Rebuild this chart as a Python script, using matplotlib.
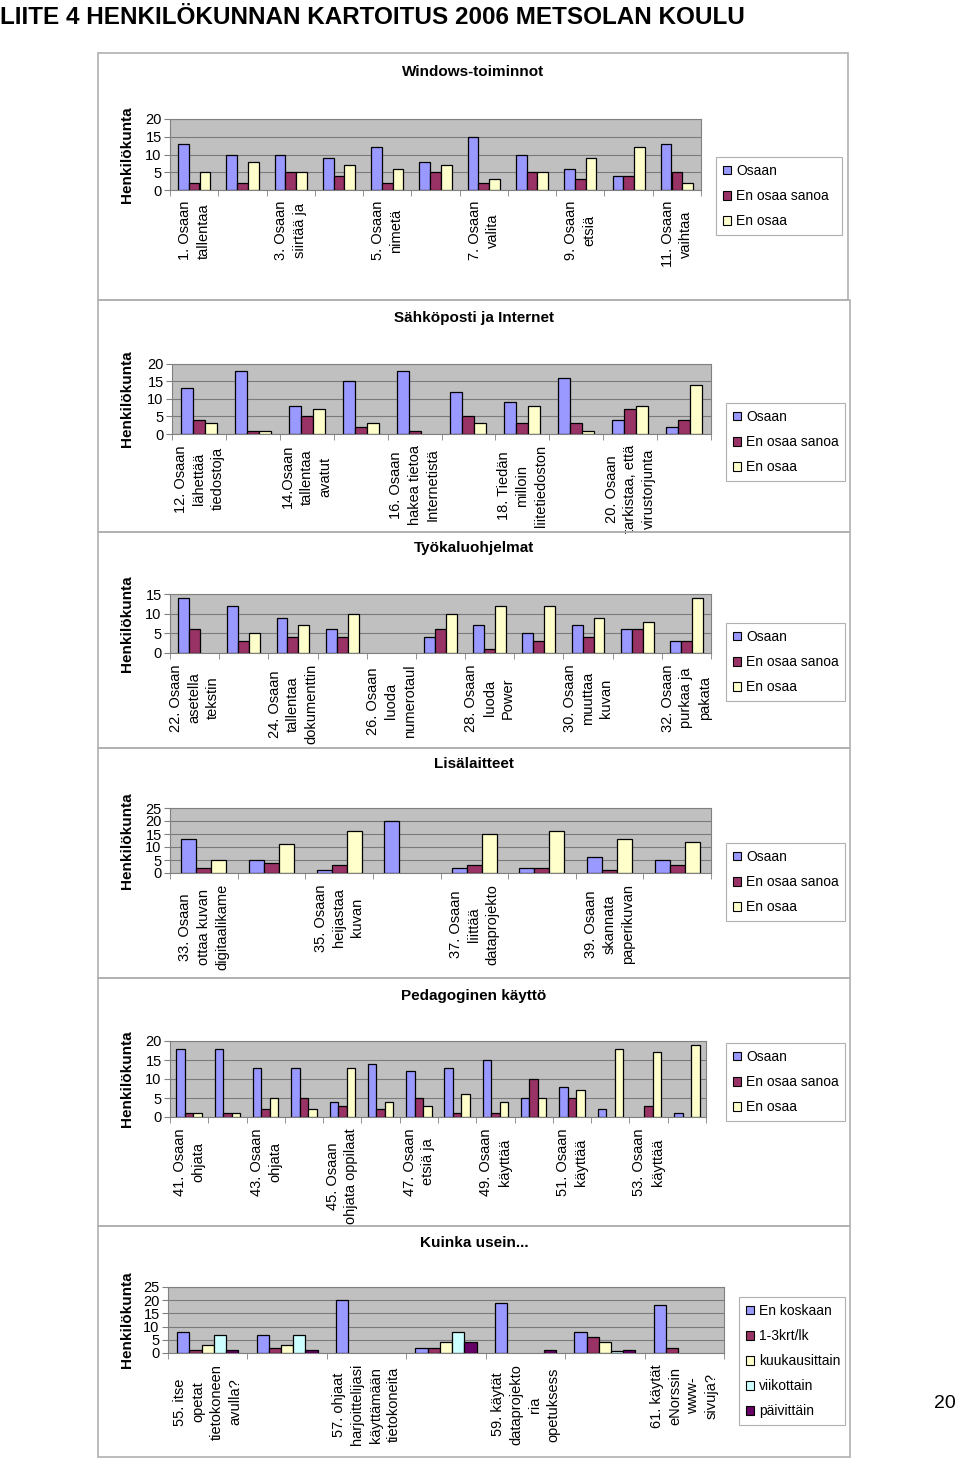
import numpy as np
import matplotlib
matplotlib.use('Agg')
import matplotlib.pyplot as plt
from matplotlib.patches import Patch, Rectangle

plt.rcParams['font.family'] = ['Liberation Sans', 'DejaVu Sans']

W, H = 960, 1458
PLOT_BG  = '#c0c0c0'
GRID     = '#7a7a7a'
AXIS     = '#808080'
BOX_EDGE = '#b0b0b0'
FS       = 10.5

SERIES_3 = ['Osaan', 'En osaa sanoa', 'En osaa']
COLORS_3 = ['#9999ff', '#993366', '#ffffcc']
SERIES_5 = ['En koskaan', '1-3krt/lk', 'kuukausittain', 'viikottain', 'päivittäin']
COLORS_5 = ['#9999ff', '#993366', '#ffffcc', '#ccffff', '#660066']

# Windows-toiminnot (1-11)
win_labels = ['1. Osaan\ntallentaa', '', '3. Osaan\nsiirtää ja', '', '5. Osaan\nnimetä', '',
              '7. Osaan\nvalita', '', '9. Osaan\netsiä', '', '11. Osaan\nvaihtaa']
win_osaan = [13, 10, 10, 9, 12, 8, 15, 10, 6, 4, 13]
win_eos   = [2, 2, 5, 4, 2, 5, 2, 5, 3, 4, 5]
win_eo    = [5, 8, 5, 7, 6, 7, 3, 5, 9, 12, 2]

# Sähköposti ja Internet (12-21)
net_labels = ['12. Osaan\nlähettää\ntiedostoja', '', '14.Osaan\ntallentaa\navatut', '',
              '16. Osaan\nhakea tietoa\nInternetistä', '', '18. Tiedän\nmilloin\nliitetiedoston', '',
              '20. Osaan\ntarkistaa, että\nvirustorjunta', '']
net_osaan = [13, 18, 8, 15, 18, 12, 9, 16, 4, 2]
net_eos   = [4, 1, 5, 2, 1, 5, 3, 3, 7, 4]
net_eo    = [3, 1, 7, 3, 0, 3, 8, 1, 8, 14]

# Työkaluohjelmat (22-32)
tool_labels = ['22. Osaan\nasetella\ntekstin', '', '24. Osaan\ntallentaa\ndokumenttin', '',
               '26. Osaan\nluoda\nnumerotaul', '', '28. Osaan\nluoda\nPower', '',
               '30. Osaan\nmuuttaa\nkuvan', '', '32. Osaan\npurkaa ja\npakata']
tool_osaan = [14, 12, 9, 6, 0, 4, 7, 5, 7, 6, 3]
tool_eos   = [6, 3, 4, 4, 0, 6, 1, 3, 4, 6, 3]
tool_eo    = [0, 5, 7, 10, 0, 10, 12, 12, 9, 8, 14]

# Lisälaitteet (33-40)
dev_labels = ['33. Osaan\nottaa kuvan\ndigitaalikame', '', '35. Osaan\nheijastaa\nkuvan', '',
              '37. Osaan\nliittää\ndataprojekto', '', '39. Osaan\nskannata\npaperikuvan', '']
dev_osaan = [13, 5, 1, 20, 2, 2, 6, 5]
dev_eos   = [2, 4, 3, 0, 3, 2, 1, 3]
dev_eo    = [5, 11, 16, 0, 15, 16, 13, 12]

# Pedagoginen käyttö (41-54)
ped_labels = ['41. Osaan\nohjata', '', '43. Osaan\nohjata', '', '45. Osaan\nohjata oppilaat', '',
              '47. Osaan\netsiä ja', '', '49. Osaan\nkäyttää', '', '51. Osaan\nkäyttää', '',
              '53. Osaan\nkäyttää', '']
ped_osaan = [18, 18, 13, 13, 4, 14, 12, 13, 15, 5, 8, 2, 0, 1]
ped_eos   = [1, 1, 2, 5, 3, 2, 5, 1, 1, 10, 5, 0, 3, 0]
ped_eo    = [1, 1, 5, 2, 13, 4, 3, 6, 4, 5, 7, 18, 17, 19]

# Kuinka usein... (55-61)
freq_labels = ['55. itse\nopetat\ntietokoneen\navulla?', '',
               '57. ohjaat\nharjoittelijasi\nkäyttämään\ntietokoneita', '',
               '59. käytät\ndataprojekto\nria\nopetuksess', '',
               '61. käytät\neNorssin\nwww-\nsivuja?']
freq_never   = [8, 7, 20, 2, 19, 8, 18]
freq_1_3     = [1, 2, 0, 2, 0, 6, 2]
freq_month   = [3, 3, 0, 4, 0, 4, 0]
freq_week    = [7, 7, 0, 8, 0, 0.7, 0]
freq_daily   = [1, 1, 0, 4, 1, 1, 0]


def fig_rect(x0, y0, x1, y1):
    return [x0 / W, 1 - y1 / H, (x1 - x0) / W, (y1 - y0) / H]


fig = plt.figure(figsize=(W / 100, H / 100), dpi=100)


def draw_panel(box, plot, title, title_y, labels, series, names, colors, ymax, leg):
    # chart area frame + title + y label
    fig.patches.append(Rectangle((box[0] / W, 1 - box[3] / H), (box[2] - box[0]) / W,
                                 (box[3] - box[1]) / H, transform=fig.transFigure,
                                 fill=False, edgecolor=BOX_EDGE, lw=1.2))
    fig.text((box[0] + box[2]) / 2 / W, 1 - title_y / H, title, ha='center', va='center',
             fontsize=11, fontweight='bold')
    fig.text(127 / W, 1 - (plot[1] + plot[3]) / 2 / H, 'Henkilökunta', rotation=90,
             ha='center', va='center', fontsize=11, fontweight='bold')

    ax = fig.add_axes(fig_rect(*plot))
    ax.set_facecolor(PLOT_BG)
    n, k = len(labels), len(series)
    x = np.arange(n)
    w = 1 / (k + 1.5)
    for i, (vals, color) in enumerate(zip(series, colors)):
        vals = np.asarray(vals, dtype=float)
        m = vals > 0
        ax.bar(x[m] + (i - (k - 1) / 2) * w, vals[m], w, color=color,
               edgecolor='black', lw=0.9, zorder=3)

    ax.set_xlim(-0.5, n - 0.5)
    ax.set_ylim(0, ymax)
    ax.set_yticks(np.arange(0, ymax + 1, 5))
    ax.yaxis.grid(True, color=GRID, lw=0.8)
    ax.set_axisbelow(True)
    ax.set_xticks(x)
    ax.set_xticklabels(labels, rotation=90, ha='center', va='top', multialignment='center',
                       linespacing=1.4, fontsize=FS)
    # tick marks sit between the categories
    ax.set_xticks(np.arange(n + 1) - 0.5, minor=True)
    ax.tick_params(axis='x', which='major', length=0, pad=8)
    ax.tick_params(axis='x', which='minor', length=4, color=AXIS)
    ax.tick_params(axis='y', length=4, color=AXIS, labelsize=FS, pad=2)
    for s in ax.spines.values():
        s.set_color(AXIS)

    handles = [Patch(facecolor=c, edgecolor='black', lw=0.8) for c in colors]
    lg = ax.legend(handles, names, loc='upper left',
                   bbox_to_anchor=(leg[0] / W, 1 - leg[3] / H, (leg[2] - leg[0]) / W,
                                   (leg[3] - leg[1]) / H),
                   bbox_transform=fig.transFigure, mode='expand', borderaxespad=0,
                   fancybox=False, framealpha=1, edgecolor='#b0b0b0', fontsize=10,
                   handlelength=0.6, handleheight=0.6, handletextpad=0.35,
                   borderpad=0.5, labelspacing=0.8)
    lg.get_frame().set_linewidth(0.8)
    return ax


draw_panel((98, 53, 848, 300), (170, 119, 701, 190), 'Windows-toiminnot', 72,
           win_labels, [win_osaan, win_eos, win_eo], SERIES_3, COLORS_3, 20, (716, 157, 842, 235))
draw_panel((98, 300, 850, 532), (172, 364, 711, 434), 'Sähköposti ja Internet', 318,
           net_labels, [net_osaan, net_eos, net_eo], SERIES_3, COLORS_3, 20, (726, 403, 845, 478))
draw_panel((98, 532, 850, 748), (170, 594, 711, 653), 'Työkaluohjelmat', 548,
           tool_labels, [tool_osaan, tool_eos, tool_eo], SERIES_3, COLORS_3, 15, (726, 623, 845, 697))
draw_panel((98, 748, 850, 978), (170, 808, 711, 873), 'Lisälaitteet', 764,
           dev_labels, [dev_osaan, dev_eos, dev_eo], SERIES_3, COLORS_3, 25, (726, 843, 845, 917))
draw_panel((98, 978, 850, 1226), (170, 1041, 706, 1117), 'Pedagoginen käyttö', 996,
           ped_labels, [ped_osaan, ped_eos, ped_eo], SERIES_3, COLORS_3, 20, (726, 1043, 845, 1117))
draw_panel((98, 1226, 850, 1457), (168, 1287, 724, 1353), 'Kuinka usein...', 1243,
           freq_labels, [freq_never, freq_1_3, freq_month, freq_week, freq_daily],
           SERIES_5, COLORS_5, 25, (739, 1297, 845, 1420))

fig.text(0, 1 - 17 / H, 'LIITE 4 HENKILÖKUNNAN KARTOITUS 2006 METSOLAN KOULU',
         ha='left', va='center', fontsize=17.5, fontweight='bold')
fig.text(945 / W, 1 - 1403 / H, '20', ha='center', va='center', fontsize=14)

fig.savefig('out.png', dpi=100)
